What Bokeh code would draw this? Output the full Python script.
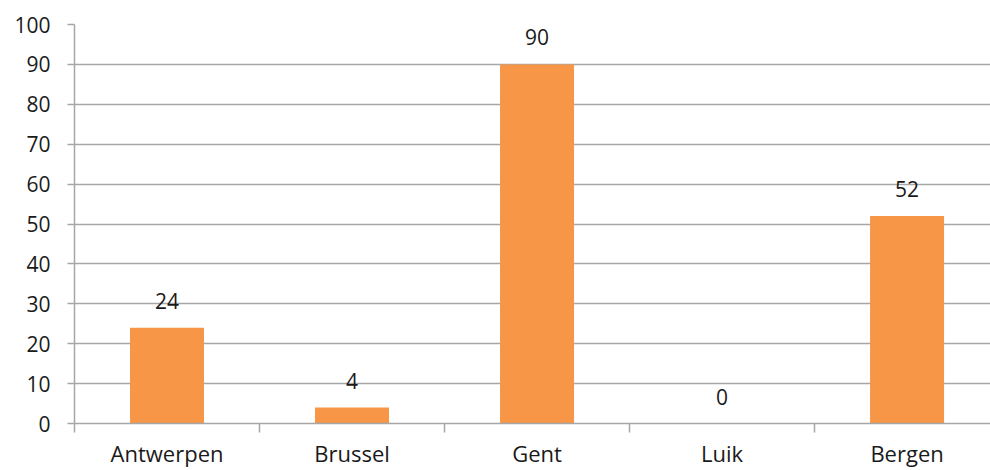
from bokeh.plotting import figure
from bokeh.models import FixedTicker, ColumnDataSource, Range1d
from bokeh.core.properties import value
from bokeh.embed import file_html
from bokeh.resources import INLINE
import numpy as np

categories = ["Antwerpen", "Brussel", "Gent", "Luik", "Bergen"]
values = [24, 4, 90, 0, 52]
y_ticks = [0, 10, 20, 30, 40, 50, 60, 70, 80, 90, 100]

FONT = "Open Sans"
TEXT_COLOR = "#1a1a1a"
GRID_COLOR = "#a6a6a6"
BAR_COLOR = "#f79646"

idx = np.arange(len(categories))
src = ColumnDataSource(dict(x=idx, top=values, label=[str(v) for v in values]))

p = figure(width=990, height=470, output_backend="svg", toolbar_location=None,
           x_range=Range1d(-0.5, 4.451), y_range=Range1d(0, 100),
           min_border_left=74, min_border_right=0, min_border_top=24, min_border_bottom=46)
p.outline_line_color = None

p.vbar(x="x", top="top", width=0.4, source=src, color=BAR_COLOR, line_color=None)
p.text(x="x", y="top", text="label", source=src, text_align="center",
       text_baseline="alphabetic", y_offset=-27, text_font=value(FONT),
       text_font_size="21px", text_color=TEXT_COLOR)

# x axis
p.xaxis.ticker = FixedTicker(ticks=list(idx), minor_ticks=[i - 0.5 for i in range(len(categories) + 1)])
p.xaxis.major_label_overrides = {int(i): c for i, c in zip(idx, categories)}
p.xaxis.major_tick_out = 0
p.xaxis.major_tick_in = 0
p.xaxis.minor_tick_out = 9
p.xaxis.minor_tick_in = 0
p.xaxis.minor_tick_line_color = GRID_COLOR
p.xaxis.minor_tick_line_width = 1.5
p.xaxis.axis_line_color = GRID_COLOR
p.xaxis.axis_line_width = 1.5
p.xaxis.major_label_text_font = FONT
p.xaxis.major_label_text_font_size = "22px"
p.xaxis.major_label_text_color = TEXT_COLOR
p.xaxis.major_label_standoff = 5
p.xgrid.grid_line_color = None

# y axis
p.yaxis.ticker = FixedTicker(ticks=y_ticks)
p.yaxis.minor_tick_line_color = None
p.yaxis.major_tick_out = 7
p.yaxis.major_tick_in = 0
p.yaxis.major_tick_line_color = GRID_COLOR
p.yaxis.major_tick_line_width = 1.5
p.yaxis.axis_line_color = GRID_COLOR
p.yaxis.axis_line_width = 1.5
p.yaxis.major_label_text_font = FONT
p.yaxis.major_label_text_font_size = "21px"
p.yaxis.major_label_text_color = TEXT_COLOR
p.yaxis.major_label_standoff = 17
p.ygrid.grid_line_color = GRID_COLOR
p.ygrid.grid_line_width = 1.5
p.ygrid.ticker = FixedTicker(ticks=y_ticks)

open("out.html", "w").write(file_html(p, INLINE))
